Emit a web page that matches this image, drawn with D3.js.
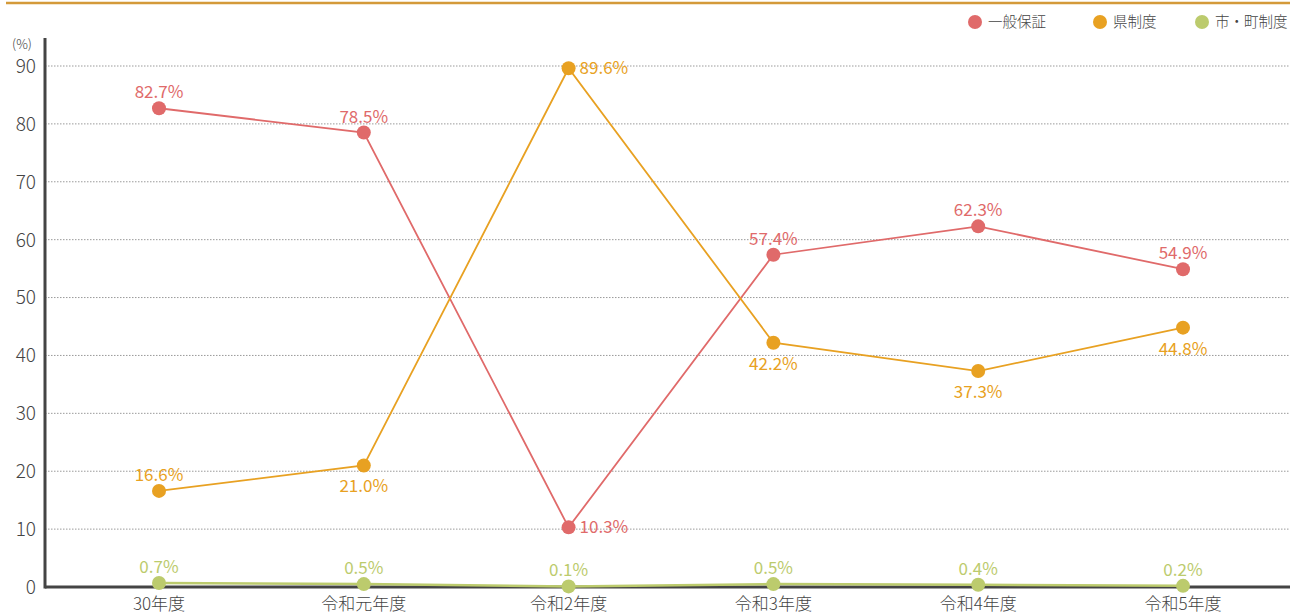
<!DOCTYPE html>
<html><head><meta charset="utf-8">
<script src="https://cdn.jsdelivr.net/npm/d3@7"></script>
<style>
body{margin:0;background:#fff;}
text{font-family:"Noto Sans CJK JP","Noto Sans",sans-serif;}
</style></head>
<body><svg id="c" width="1290" height="615"></svg>
<script>
const categories = ["30年度","令和元年度","令和2年度","令和3年度","令和4年度","令和5年度"];
const seriesNames = ["一般保証","県制度","市・町制度"];
const seriesColors = ["#e06a6a","#e8a122","#bccb6d"];
const general = [82.7,78.5,10.3,57.4,62.3,54.9];
const prefecture = [16.6,21.0,89.6,42.2,37.3,44.8];
const city = [0.7,0.5,0.1,0.5,0.4,0.2];
const yTicks = [0,10,20,30,40,50,60,70,80,90];
// label placement per point: "a" above, "b" below, "r" right
const genPos = ["a","a","r","a","a","a"];
const prefPos = ["a","b","r","b","b","b"];
const cityPos = ["a","a","a","a","a","a"];

(function(){
const svg = d3.select("#c");
const pLeft = 45, pRight = 1290, pTop = 38, pBottom = 587;
const x = d3.scalePoint().domain(categories).range([159,1183]);
const y = d3.scaleLinear().domain([0,90]).range([pBottom,66]);

// top rule
svg.append("line").attr("x1",6).attr("x2",1290).attr("y1",3).attr("y2",3)
  .attr("stroke","#d49a3a").attr("stroke-width",2.5);

// gridlines
svg.append("g").selectAll("line").data(yTicks.filter(d=>d>0)).join("line")
  .attr("x1",pLeft).attr("x2",pRight).attr("y1",d=>y(d)).attr("y2",d=>y(d))
  .attr("stroke","#9a9a9a").attr("stroke-width",1).attr("stroke-dasharray","1.5,1.5");

// y axis labels
svg.append("g").selectAll("text").data(yTicks).join("text")
  .attr("x",36).attr("y",d=>y(d)).attr("dy","0.36em").attr("text-anchor","end")
  .attr("fill","#444").attr("font-size",19).attr("font-weight",300).text(d=>d);
svg.append("text").attr("x",22).attr("y",49).attr("text-anchor","middle")
  .attr("fill","#444").attr("font-size",13).attr("font-weight",300).text("(%)");

// x labels
svg.append("g").selectAll("text").data(categories).join("text")
  .attr("x",d=>x(d)).attr("y",610).attr("text-anchor","middle")
  .attr("fill","#444").attr("font-size",17).attr("font-weight",300).text(d=>d);

// baseline
svg.append("line").attr("x1",pLeft).attr("x2",pRight).attr("y1",pBottom).attr("y2",pBottom)
  .attr("stroke","#444").attr("stroke-width",3);

const data = [general, prefecture, city];
const positions = [genPos, prefPos, cityPos];
const line = d3.line().x((d,i)=>x(categories[i])).y(d=>y(d));
data.forEach((vals,si)=>{
  const g = svg.append("g");
  g.append("path").datum(vals).attr("d",line).attr("fill","none")
    .attr("stroke",seriesColors[si]).attr("stroke-width",si===2?2.5:1.8);
  g.selectAll("circle").data(vals).join("circle")
    .attr("cx",(d,i)=>x(categories[i])).attr("cy",d=>y(d)).attr("r",7)
    .attr("fill",seriesColors[si]);
  g.selectAll("text").data(vals).join("text")
    .attr("x",(d,i)=>{const p=positions[si][i];return x(categories[i])+(p==="r"?11:0);})
    .attr("y",(d,i)=>{const p=positions[si][i];return y(d)+(p==="a"?-10:p==="b"?27:6);})
    .attr("text-anchor",(d,i)=>positions[si][i]==="r"?"start":"middle")
    .attr("fill",seriesColors[si]).attr("font-size",17).attr("font-weight",400)
    .text(d=>d.toFixed(1)+"%");
});

// y axis line
svg.append("line").attr("x1",pLeft).attr("x2",pLeft).attr("y1",pTop).attr("y2",pBottom+1.5)
  .attr("stroke","#444").attr("stroke-width",3);

// legend
const legX = [975,1100,1202];
const leg = svg.append("g");
seriesNames.forEach((n,i)=>{
  leg.append("circle").attr("cx",legX[i]).attr("cy",22).attr("r",7).attr("fill",seriesColors[i]);
  leg.append("text").attr("x",legX[i]+13).attr("y",22).attr("dy","0.36em")
    .attr("fill","#444").attr("font-size",14.5).attr("font-weight",300).text(n);
});
})();
</script></body></html>
